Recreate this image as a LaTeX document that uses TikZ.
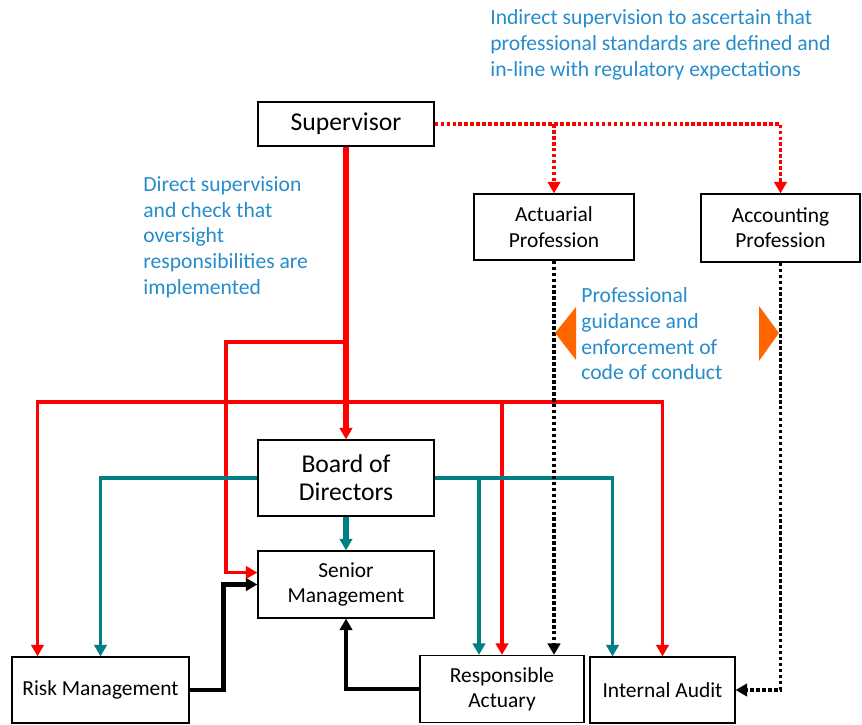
\documentclass[tikz,border=0pt]{standalone}
\usepackage{fontspec}
\setmainfont{Carlito}
\usepackage{tikz}
\usetikzlibrary{arrows.meta}
\usetikzlibrary{calc}
\definecolor{note_blue}{RGB}{38,140,204}
\definecolor{teal_line}{RGB}{0,128,128}
\definecolor{tri_orange}{RGB}{255,102,0}
\tikzset{my_chart/.style={x=0.02cm,y=-0.02cm,>={Triangle[length=6.5pt,width=7pt]}}}
\tikzset{my_box/.style={draw,line width=0.7pt,inner sep=0pt,align=center,font=\fontsize{12.2}{14.4}\selectfont}}
\tikzset{my_big_box/.style={my_box,font=\fontsize{14.6}{16}\selectfont}}
\tikzset{my_note/.style={anchor=north west,inner sep=0pt,align=left,text=note_blue,font=\fontsize{12.3}{14.7}\selectfont}}
\tikzset{red_main/.style={->,red,line width=3.2pt}}
\tikzset{red_line/.style={->,red,line width=2.1pt}}
\tikzset{red_dots/.style={->,red,line width=2.1pt,dash pattern=on 2pt off 1.4pt}}
\tikzset{teal_arrow/.style={->,teal_line,line width=2.1pt}}
\tikzset{teal_main/.style={->,teal_line,line width=3.2pt}}
\tikzset{black_arrow/.style={->,black,line width=2.6pt}}
\tikzset{black_dots/.style={->,black,line width=2.1pt,dash pattern=on 2pt off 1.4pt}}

\begin{document}
\begin{tikzpicture}[my_chart]
    \useasboundingbox (0,0) rectangle (862,724);
    %\draw[help lines,step=1cm] (0,0) grid (862,724);
    \node[my_big_box, minimum width=3.52cm, minimum height=0.88cm] (sup) at (346,124) {Supervisor};
    \node[my_box, minimum width=3.2cm, minimum height=1.32cm] (actp) at (554,227) {Actuarial\\Profession};
    \node[my_box, minimum width=3.18cm, minimum height=1.36cm] (accp) at (780.5,228) {Accounting\\Profession};
    \node[my_big_box, minimum width=3.52cm, minimum height=1.52cm, font=\fontsize{14.6}{15.9}\selectfont] (board) at (346,478) {Board of\\Directors};
    \node[my_box, minimum width=3.52cm, minimum height=1.34cm] (senior) at (346,584.5) {Senior\\Management};
    \node[my_box, minimum width=3.54cm, minimum height=1.32cm] (risk) at (100.5,690) {Risk Management};
    \node[my_box, minimum width=3.28cm, minimum height=1.34cm] (ra) at (502,689) {Responsible\\Actuary};
    \node[my_box, minimum width=2.9cm, minimum height=1.32cm] (audit) at (662.5,690) {Internal Audit};

    \node[my_note] (indirect) at (490,9) {Indirect supervision to ascertain that\\professional standards are defined and\\in-line with regulatory expectations};
    \node[my_note] (direct) at (143,176) {Direct supervision\\and check that\\oversight\\responsibilities are\\implemented};
    \node[my_note] (guide) at (581,287) {Professional\\guidance and\\enforcement of\\code of conduct};

    \coordinate (split) at (346,342);
    \coordinate (cross) at (346,402);

    % supervisor lines
    \draw[red_main] (sup.south) -- (board.north);
    \draw[red_line] (split) -- (226,342) |- ($(senior.west)+(0,-12)$);
    \draw[red_line] (cross) -| ($(risk.north)+(-63,0)$);
    \draw[red_line] (cross) -| (ra.north);
    \draw[red_line] (cross) -| (audit.north);
    \draw[red_dots] (sup.east) -| (actp.north);
    \draw[red_dots] (sup.east) -| (accp.north);

    % board lines
    \draw[teal_arrow] (board.west) -| (risk.north);
    \draw[teal_arrow] (board.east) -| ($(ra.north)+(-23,0)$);
    \draw[teal_arrow] (board.east) -| ($(audit.north)+(-50,0)$);
    \draw[teal_main] (board.south) -- (senior.north);

    % reporting lines
    \draw[black_arrow] (risk.east) -- ++(34,0) |- (senior.west);
    \draw[black_arrow] (ra.west) -| (senior.south);
    \draw[black_dots] (actp.south) -- ($(ra.north)+(52,0)$);
    \draw[black_dots] (accp.south) |- (audit.east);

    \fill[tri_orange] (555,333) -- (576,307) -- (576,360) -- cycle;
    \fill[tri_orange] (779,333) -- (759,306) -- (759,361) -- cycle;
\end{tikzpicture}
\end{document}
